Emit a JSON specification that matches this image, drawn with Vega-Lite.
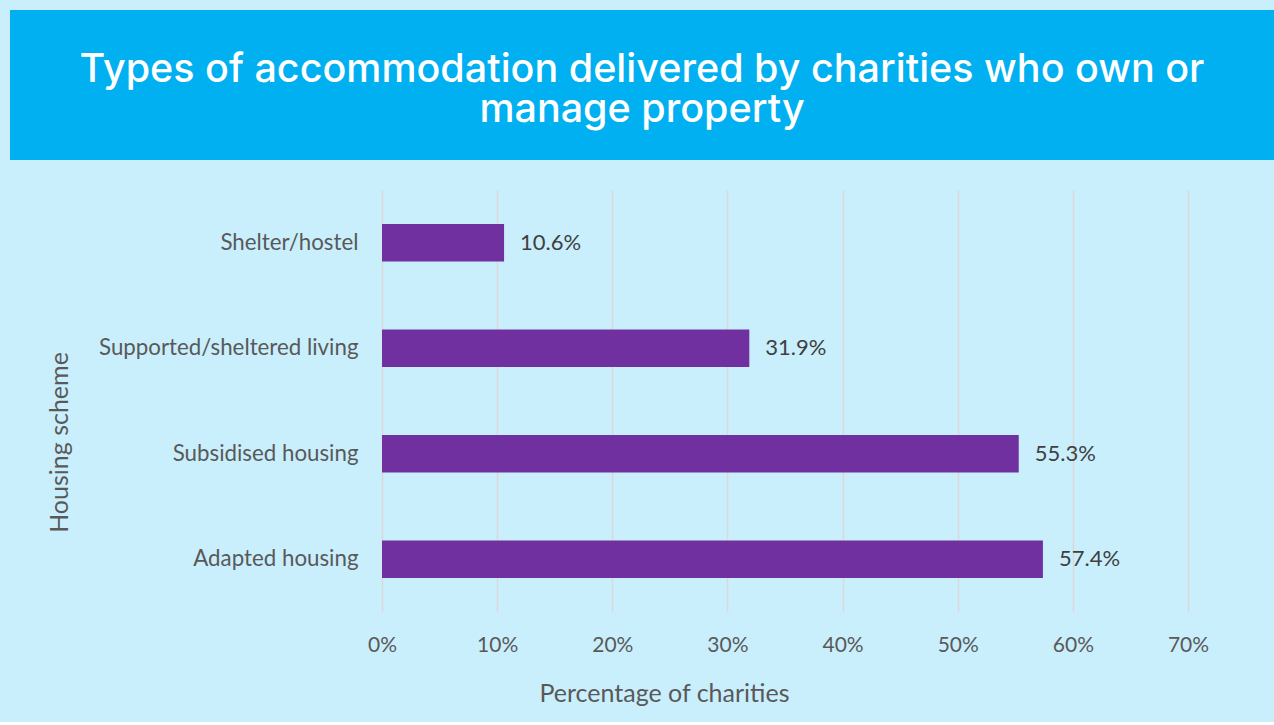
{
  "$schema": "https://vega.github.io/schema/vega-lite/v6.json",
  "autosize": {"type": "pad"},
  "padding": {"left": 10, "top": 10, "right": 0, "bottom": 16},
  "background": "#C9EFFD",
  "spacing": 30,
  "config": {"view": {"stroke": null}},
  "vconcat": [
    {
      "width": 1264,
      "height": 150,
      "view": {"fill": "#00B0F0", "stroke": null},
      "data": {"values": [
        {"text": "Types of accommodation delivered by charities who own or\nmanage property"}
      ]},
      "mark": {"type": "text", "color": "#FFFFFF", "font": "Inter", "fontSize": 39.5, "fontWeight": 500, "align": "center", "baseline": "middle", "lineBreak": "\n", "lineHeight": 40, "dy": -15},
      "encoding": {
        "text": {"field": "text"}
      }
    },
    {
      "width": 1178,
      "height": 422,
      "data": {"values": [
        {"scheme": "Shelter/hostel", "pct": 0.106},
        {"scheme": "Supported/sheltered living", "pct": 0.319},
        {"scheme": "Subsidised housing", "pct": 0.553},
        {"scheme": "Adapted housing", "pct": 0.574}
      ]},
      "encoding": {
        "y": {
          "field": "scheme", "type": "nominal",
          "sort": ["Shelter/hostel", "Supported/sheltered living", "Subsidised housing", "Adapted housing"],
          "scale": {"paddingInner": 0.645, "paddingOuter": 0.3225},
          "axis": {
            "title": "Housing scheme", "offset": -372, "titleY": 252,
            "titleFont": "Lato", "titleFontSize": 25, "titleFontWeight": "normal", "titleColor": "#595959",
            "titlePadding": 24,
            "labelFont": "Lato", "labelFontSize": 22.3, "labelColor": "#595959", "labelPadding": 24,
            "labelLimit": 400, "minExtent": 286,
            "domain": false, "ticks": false, "grid": false
          }
        },
        "x": {
          "field": "pct", "type": "quantitative",
          "scale": {"domain": [-0.3231, 0.7], "nice": false, "zero": false},
          "axis": {
            "title": "Percentage of charities", "titleX": 654,
            "titleFont": "Lato", "titleFontSize": 25, "titleFontWeight": "normal", "titleColor": "#595959", "titlePadding": 26,
            "format": ".0%", "values": [0, 0.1, 0.2, 0.3, 0.4, 0.5, 0.6, 0.7],
            "labelFont": "Lato", "labelFontSize": 21, "labelColor": "#595959", "labelPadding": 22, "labelFlush": false,
            "domain": false, "ticks": false,
            "grid": true, "gridColor": "#D9D9D9", "gridWidth": 1.5
          }
        }
      },
      "layer": [
        {"mark": {"type": "bar", "color": "#7030A0"}},
        {
          "mark": {"type": "text", "align": "left", "baseline": "middle", "dx": 16, "font": "Lato", "fontSize": 22, "color": "#404040"},
          "encoding": {"text": {"field": "pct", "type": "quantitative", "format": ".1%"}}
        }
      ]
    }
  ]
}
